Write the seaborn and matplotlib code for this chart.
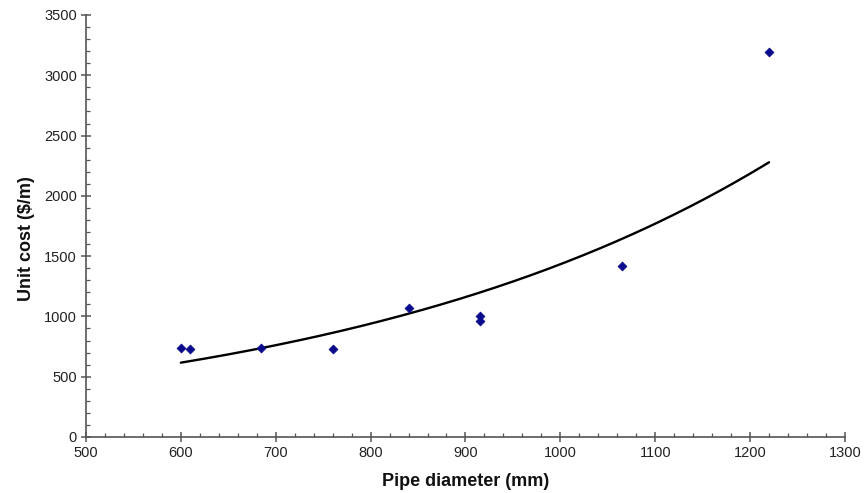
import matplotlib
matplotlib.use("Agg")
from matplotlib import pyplot as plt
from matplotlib.ticker import MultipleLocator
import numpy as np
import pandas as pd
import seaborn as sns

# data
diameter_mm = [600, 610, 685, 760, 840, 915, 915, 1065, 1220]
unit_cost = [740, 730, 740, 730, 1070, 1000, 960, 1420, 3190]

df = pd.DataFrame({"diameter": diameter_mm, "cost": unit_cost})

# exponential trendline fitted on the points (like a spreadsheet trendline)
b, ln_a = np.polyfit(df["diameter"], np.log(df["cost"]), 1)
xfit = np.linspace(df["diameter"].min(), df["diameter"].max(), 200)
trend = pd.DataFrame({"diameter": xfit, "cost": np.exp(ln_a) * np.exp(b * xfit)})

sns.set_style("ticks")
plt.rcParams["font.family"] = ["Liberation Sans", "DejaVu Sans"]

fig = plt.figure(figsize=(8.65, 4.93), dpi=100)
ax = fig.add_axes([0.0994, 0.1136, 0.8774, 0.856])

sns.lineplot(data=trend, x="diameter", y="cost", color="black", linewidth=1.7, ax=ax)
sns.scatterplot(data=df, x="diameter", y="cost", marker="D", s=20, color="#0a0a8c",
                edgecolor="#0a0a8c", linewidth=0.6, ax=ax, zorder=3)

ax.set_xlim(500, 1300)
ax.set_ylim(0, 3500)
ax.xaxis.set_major_locator(MultipleLocator(100))
ax.xaxis.set_minor_locator(MultipleLocator(20))
ax.yaxis.set_major_locator(MultipleLocator(500))
ax.yaxis.set_minor_locator(MultipleLocator(100))

axis_color = "#555555"
for side in ["top", "right"]:
    ax.spines[side].set_visible(False)
for side in ["left", "bottom"]:
    ax.spines[side].set_color(axis_color)
    ax.spines[side].set_linewidth(1.2)

ax.tick_params(which="major", direction="inout", length=7, width=1.1, color=axis_color,
               labelsize=10.5, labelcolor="#222222", pad=3)
ax.tick_params(which="minor", direction="in", length=3, width=0.9, color=axis_color)

ax.set_xlabel("Pipe diameter (mm)", fontsize=13, fontweight="bold", color="#111111", labelpad=9)
ax.set_ylabel("Unit cost ($/m)", fontsize=13, fontweight="bold", color="#111111")
ax.yaxis.set_label_coords(-0.067, 0.47)

fig.savefig("out.png", dpi=100)
